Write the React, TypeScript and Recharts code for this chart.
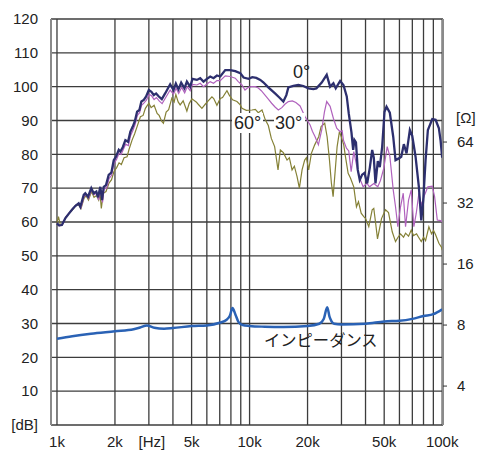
import { CartesianGrid, Line, LineChart, XAxis, YAxis } from "recharts";

const FONT = '"Liberation Sans", Arial, sans-serif';

// 0° on-axis response
const freq0 = [
  1000, 1024, 1061, 1104, 1150, 1196, 1244, 1296, 1322, 1377, 1403, 1449, 1507, 1551, 1601, 1634, 1679, 1714,
  1749, 1797, 1856, 1916, 1971, 2026, 2093, 2134, 2196, 2265, 2339, 2405, 2475, 2535, 2606, 2678, 2743, 2823,
  2903, 2998, 3093, 3183, 3272, 3379, 3502, 3644, 3869, 4025, 4142, 4274, 4414, 4591, 4726, 4916, 5053, 5327,
  5542, 5765, 6005, 6247, 6499, 6768, 7042, 7476, 7938, 8427, 8948, 9309, 9883, 10330, 10837, 11369, 11785,
  12512, 13558, 14274, 14974, 15522, 15898, 16879, 17921, 19026, 20200, 21447, 22232, 23689, 25150, 26195,
  27251, 28012, 29528, 30718, 31956, 32731, 33807, 34501, 35043, 35679, 36456, 37339, 38426, 39500, 40798,
  42089, 43314, 44155, 45063, 46320, 47442, 48825, 50190, 51408, 53478, 55699, 57258, 59566, 61302, 63241,
  65319, 67950, 69930, 72753, 75685, 77891, 79776, 82009, 84297, 88854, 92441, 96166, 98145, 100000,
];
const spl0 = [
  59.6, 59.0, 59.1, 61.1, 62.4, 63.6, 64.7, 65.5, 64.5, 68.0, 68.5, 67.5, 70.0, 68.5, 69.0, 67.3, 70.4, 66.5,
  70.4, 70.9, 73.9, 74.6, 78.3, 79.3, 81.3, 80.8, 82.1, 84.2, 83.7, 86.7, 88.2, 89.7, 92.6, 93.1, 95.6, 96.1,
  97.1, 99.0, 98.5, 97.5, 98.0, 97.1, 96.3, 98.0, 100.7, 99.0, 100.9, 99.2, 101.2, 99.5, 101.5, 100.0, 102.3,
  102.0, 102.5, 101.5, 102.3, 103.0, 102.5, 103.3, 103.0, 104.9, 104.9, 104.6, 104.0, 102.7, 102.3, 102.8,
  102.6, 102.0, 101.3, 99.8, 98.0, 96.8, 95.6, 97.5, 99.8, 100.2, 100.5, 100.2, 99.5, 99.3, 99.5, 101.2, 103.5,
  100.0, 101.0, 99.5, 101.7, 100.5, 97.1, 92.1, 86.5, 81.3, 84.2, 83.5, 75.4, 72.4, 74.0, 74.5, 71.4, 76.0,
  81.3, 79.0, 71.4, 78.0, 76.2, 82.3, 92.6, 94.1, 92.3, 85.2, 78.3, 78.8, 79.3, 83.0, 80.3, 87.2, 85.5, 79.3,
  70.4, 60.5, 66.5, 78.3, 87.2, 90.4, 90.2, 87.7, 84.0, 79.0,
];

// 30° off-axis
const freq30 = [
  1000, 1030, 1074, 1113, 1154, 1203, 1255, 1301, 1333, 1382, 1415, 1458, 1511, 1557, 1605, 1643, 1683, 1724,
  1755, 1808, 1863, 1920, 1978, 2038, 2100, 2152, 2204, 2271, 2348, 2410, 2484, 2544, 2615, 2685, 2750, 2833,
  2913, 3009, 3100, 3194, 3284, 3392, 3515, 3644, 3869, 4025, 4157, 4284, 4440, 4603, 4743, 4916, 5053, 5327,
  5542, 5765, 6005, 6247, 6499, 6768, 7042, 7476, 7938, 8427, 8735, 9131, 9466, 9847, 10244, 10708, 11099,
  11506, 12027, 12512, 13017, 13558, 14104, 14707, 15246, 15898, 16678, 17393, 18290, 18800, 19418, 19960,
  20616, 21192, 21889, 22771, 23689, 24466, 25150, 26195, 27251, 28350, 29528, 30243, 30718, 31842, 32731,
  33686, 34751, 36023, 37339, 38889, 40606, 41938, 44155, 46320, 47844, 49772, 51838, 53478, 55699, 57258,
  58856, 60791, 62785, 64542, 66901, 69101, 71287, 73364, 75685, 77891, 81029, 84297, 88854, 91338, 94336,
  98145, 100000,
];
const spl30 = [
  59.6, 58.8, 59.5, 61.5, 62.6, 63.8, 65.0, 65.3, 64.3, 67.5, 68.2, 67.0, 69.5, 68.0, 68.6, 66.5, 69.5, 65.8,
  69.8, 70.0, 72.8, 73.8, 77.3, 78.5, 80.3, 80.0, 81.3, 83.0, 82.6, 85.5, 87.2, 88.8, 91.5, 92.3, 94.5, 95.2,
  96.0, 97.7, 97.3, 96.2, 96.8, 95.8, 95.0, 96.5, 99.0, 97.8, 99.5, 98.0, 99.8, 98.2, 100.0, 98.8, 100.7, 100.5,
  101.0, 100.0, 100.8, 101.5, 101.0, 101.8, 101.8, 103.2, 103.0, 102.5, 101.5, 100.5, 99.0, 99.8, 100.0, 100.0,
  99.6, 98.8, 97.5, 96.3, 95.1, 94.0, 93.1, 93.8, 94.8, 95.6, 95.8, 95.3, 94.3, 92.8, 91.1, 90.0, 88.7, 86.8,
  85.2, 82.8, 87.2, 92.5, 95.6, 94.2, 90.6, 87.7, 86.7, 87.0, 84.2, 81.8, 81.0, 74.9, 80.8, 76.5, 72.9, 70.4,
  71.5, 70.4, 71.4, 70.4, 72.3, 75.9, 82.3, 79.5, 69.5, 64.5, 58.6, 64.5, 68.5, 58.6, 66.5, 69.5, 58.6, 62.6,
  68.5, 65.0, 68.0, 70.4, 70.6, 67.5, 60.6, 60.4, 60.0,
];

// 60° off-axis
const freq60 = [
  1000, 1018, 1042, 1074, 1113, 1154, 1203, 1255, 1301, 1333, 1382, 1415, 1458, 1511, 1557, 1605, 1647, 1673,
  1699, 1740, 1797, 1863, 1920, 1978, 2038, 2100, 2159, 2230, 2312, 2368, 2454, 2529, 2606, 2711, 2800, 2878,
  2998, 3082, 3194, 3311, 3392, 3502, 3570, 3688, 3800, 3948, 4059, 4142, 4258, 4361, 4520, 4726, 4858, 5017,
  5283, 5411, 5656, 5884, 6099, 6375, 6514, 6768, 7042, 7238, 7629, 7843, 8159, 8600, 8948, 9131, 9614, 10293,
  10708, 11099, 11602, 12071, 12512, 12970, 13493, 14053, 14446, 14974, 15651, 16089, 16618, 17082, 17643,
  18137, 18731, 19324, 19723, 20273, 20940, 21783, 22853, 23519, 24555, 25270, 25976, 26607, 27152, 27678,
  28484, 29281, 29992, 30829, 31463, 32495, 33405, 34751, 35893, 36762, 37970, 39171, 39978, 41589, 43314,
  44155, 45063, 46154, 47272, 48420, 50796, 52653, 55036, 57258, 58999, 60791, 63013, 64542, 66901, 69101,
  71030, 73629, 75412, 77891, 80065, 82009, 85314, 88117, 90251, 92441, 96166, 99327, 100000,
];
const spl60 = [
  59.8, 61.6, 59.0, 59.5, 61.5, 62.5, 63.6, 65.0, 65.0, 64.0, 67.0, 67.8, 66.5, 69.0, 67.3, 67.8, 66.5, 68.5,
  64.0, 68.5, 69.0, 71.5, 72.5, 75.0, 76.0, 77.5, 77.0, 79.0, 79.3, 81.5, 84.2, 86.0, 88.2, 91.1, 91.5, 93.6,
  95.1, 93.8, 94.5, 92.1, 91.5, 89.7, 89.2, 92.5, 93.2, 96.6, 95.5, 97.7, 95.5, 94.6, 95.8, 92.8, 95.0, 96.4,
  95.5, 94.8, 93.6, 94.8, 95.8, 97.0, 96.5, 94.5, 96.5, 96.8, 98.8, 97.5, 96.1, 95.6, 94.6, 93.6, 93.0, 93.1,
  93.3, 92.3, 93.1, 90.2, 88.5, 84.7, 82.3, 75.4, 81.3, 80.5, 78.3, 79.0, 75.4, 76.5, 73.4, 70.0, 75.4, 78.3,
  79.0, 75.4, 80.3, 82.8, 85.2, 88.2, 89.2, 85.2, 78.5, 71.4, 67.5, 73.4, 82.3, 86.7, 85.0, 82.8, 79.3, 74.4,
  73.0, 70.4, 64.5, 66.0, 62.6, 61.6, 61.1, 58.6, 63.6, 64.0, 60.0, 55.0, 58.0, 61.0, 63.6, 62.8, 57.1, 54.2,
  55.5, 56.5, 55.5, 56.7, 55.8, 57.6, 56.0, 56.5, 55.5, 54.2, 55.5, 54.5, 58.6, 56.5, 57.5, 56.2, 53.7, 52.5,
  51.7,
];

// impedance [Ω]
const freqZ = [
  1000, 1200, 1500, 2000, 2500, 2700, 2930, 3200, 3600, 4000, 5000, 6000, 7000, 7600, 7900, 8150, 8450, 8750,
  9200, 10000, 12000, 15000, 20000, 23000, 24300, 25300, 26000, 26600, 27500, 30000, 40000, 50000, 60000,
  70000, 80000, 90000, 100000,
];
const impedance = [
  6.85, 7.05, 7.25, 7.45, 7.62, 7.78, 7.97, 7.75, 7.67, 7.73, 7.91, 7.97, 8.21, 8.5, 8.9, 9.7, 9.0, 8.3, 8.0,
  7.92, 7.85, 7.82, 7.91, 8.12, 8.6, 9.8, 8.8, 8.37, 8.12, 8.06, 8.12, 8.34, 8.4, 8.58, 8.86, 9.05, 9.56,
];

const xTicks = [
  1000, 2000, 3000, 4000, 5000, 6000, 7000, 8000, 9000, 10000, 20000, 30000, 40000, 50000, 60000, 70000, 80000,
  90000, 100000,
];
const xLabels: Record<number, string> = {
  1000: "1k",
  2000: "2k",
  3000: "[Hz]",
  5000: "5k",
  10000: "10k",
  20000: "20k",
  50000: "50k",
  100000: "100k",
};
const dbTicks = [0, 10, 20, 30, 40, 50, 60, 70, 80, 90, 100, 110, 120];
const ohmTicks = [4, 8, 16, 32, 64];

const zip = (f: number[], v: number[]) => f.map((x, i) => ({ f: x, v: v[i] }));

function FreqTick(props: any) {
  const { x, y, payload } = props;
  const label = xLabels[payload.value];
  if (!label) return <g />;
  const dx = payload.value === 3000 ? 3 : 0;
  return (
    <text x={x + dx} y={y} dy="0.71em" textAnchor="middle" fontSize={15} fill="#222" fontFamily={FONT}>
      {label}
    </text>
  );
}

export default function App() {
  const tickStyle = { fontSize: 15, fill: "#222", fontFamily: FONT };
  return (
    <div style={{ position: "absolute", left: 0, top: 0, width: 478, height: 452, background: "#fff" }}>
      <LineChart width={478} height={452} margin={{ top: 19, right: 0, bottom: 0, left: 0 }}>
        <CartesianGrid stroke="#3c3c3c" strokeWidth={1.3} />
        <XAxis
          dataKey="f"
          type="number"
          scale="log"
          domain={[931, 101000]}
          allowDataOverflow
          ticks={xTicks}
          interval={0}
          tick={<FreqTick />}
          tickLine={false}
          axisLine={false}
          tickSize={0}
          tickMargin={11}
          height={27}
        />
        <YAxis
          type="number"
          domain={[0, 120]}
          ticks={dbTicks}
          interval={0}
          width={51}
          tick={tickStyle}
          tickFormatter={(v) => (v === 0 ? "[dB]" : String(v))}
          tickLine={false}
          tickSize={0}
          tickMargin={13}
          axisLine={{ stroke: "#8a8a8a", strokeWidth: 2 }}
        />
        <YAxis
          yAxisId="z"
          orientation="right"
          type="number"
          scale="log"
          domain={[2.57, 259]}
          allowDataOverflow
          ticks={ohmTicks}
          interval={0}
          width={35}
          tick={tickStyle}
          tickLine={{ stroke: "#333" }}
          tickSize={4}
          tickMargin={10}
          axisLine={{ stroke: "#8a8a8a", strokeWidth: 2 }}
        />
        <Line
          data={zip(freq60, spl60)}
          dataKey="v"
          type="linear"
          stroke="#858136"
          strokeWidth={1.2}
          dot={false}
          activeDot={false}
          isAnimationActive={false}
        />
        <Line
          data={zip(freq30, spl30)}
          dataKey="v"
          type="linear"
          stroke="#b062bd"
          strokeWidth={1.2}
          dot={false}
          activeDot={false}
          isAnimationActive={false}
        />
        <Line
          data={zip(freq0, spl0)}
          dataKey="v"
          type="linear"
          stroke="#2d2f6e"
          strokeWidth={2.3}
          dot={false}
          activeDot={false}
          isAnimationActive={false}
        />
        <Line
          data={zip(freqZ, impedance)}
          dataKey="v"
          yAxisId="z"
          type="monotone"
          stroke="#2a62b5"
          strokeWidth={2.5}
          dot={false}
          activeDot={false}
          isAnimationActive={false}
        />
      </LineChart>
      <svg
        width={478}
        height={452}
        style={{ position: "absolute", left: 0, top: 0, pointerEvents: "none" }}
        fontFamily={FONT}
        fill="#222"
      >
        <text x={293} y={78} fontSize={18}>0°</text>
        <rect x={232} y={113} width={31} height={20} fill="#fff" />
        <text x={234} y={129} fontSize={18}>60°</text>
        <rect x={274} y={113} width={31} height={20} fill="#fff" />
        <text x={275} y={129} fontSize={18}>30°</text>
        <text x={264} y={346} fontSize={16.3} fontFamily='"Noto Sans CJK JP", sans-serif'>インピーダンス</text>
        <text x={456} y={123} fontSize={15}>[Ω]</text>
      </svg>
    </div>
  );
}
